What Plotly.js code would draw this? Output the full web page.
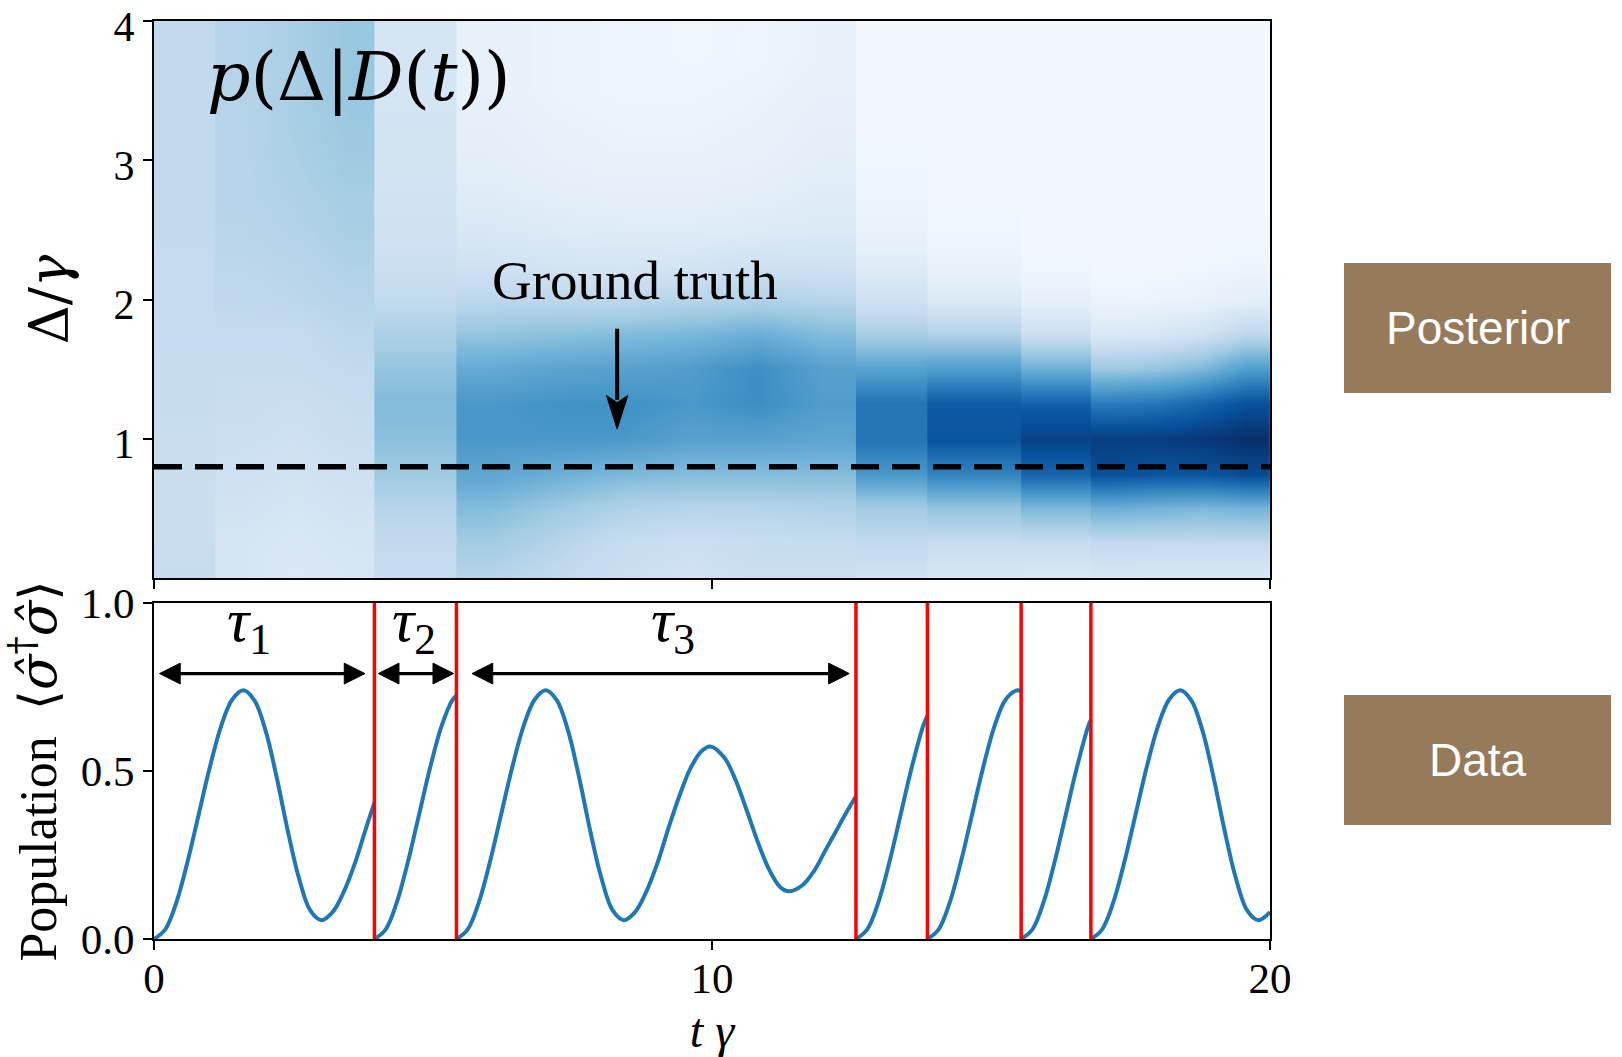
<!DOCTYPE html>
<html><head><meta charset="utf-8">
<script src="https://cdn.plot.ly/plotly-3.0.1.min.js"></script>
<style>html,body{margin:0;padding:0;background:#fff}</style>
</head><body><div id="chart" style="width:1622px;height:1057px"></div>
<script>
// ---------------- DATA ----------------
// reset (measurement) times, in units of t*gamma
const resetTimes = [3.95, 5.42, 12.58, 13.86, 15.54, 16.79];

// Population trace, segment by segment
const seg1T = [0,0.2,0.4,0.6,0.8,1.0,1.2,1.4,1.6,1.8,2.0,2.2,2.4,2.6,2.8,3.0,3.2,3.4,3.6,3.8,3.95];
const seg1P = [0,0.028,0.108,0.229,0.37,0.511,0.632,0.712,0.74,0.71,0.62,0.48,0.32,0.18,0.085,0.056,0.08,0.14,0.225,0.33,0.405];
const seg2T = [3.95,4.15,4.35,4.55,4.75,4.95,5.15,5.35,5.42];
const seg2P = [0,0.028,0.108,0.229,0.37,0.511,0.632,0.712,0.725];
const seg3T = [5.42,5.62,5.82,6.02,6.22,6.42,6.62,6.82,7.02,7.22,7.42,7.62,7.82,8.02,8.22,8.42,8.62,8.82,9.02,9.22,9.42,9.62,9.82,9.97,10.22,10.42,10.62,10.82,11.02,11.22,11.38,11.62,11.82,12.02,12.22,12.42,12.58];
const seg3P = [0,0.028,0.108,0.229,0.37,0.511,0.632,0.712,0.74,0.71,0.62,0.48,0.32,0.18,0.085,0.056,0.08,0.14,0.225,0.33,0.428,0.51,0.56,0.573,0.54,0.474,0.384,0.289,0.208,0.155,0.142,0.16,0.2,0.26,0.32,0.38,0.425];
const seg4T = [12.58,12.78,12.98,13.18,13.38,13.58,13.78,13.86];
const seg4P = [0,0.028,0.108,0.229,0.37,0.511,0.632,0.665];
const seg5T = [13.86,14.06,14.26,14.46,14.66,14.86,15.06,15.26,15.46,15.54];
const seg5P = [0,0.028,0.108,0.229,0.37,0.511,0.632,0.712,0.74,0.737];
const seg6T = [15.54,15.74,15.94,16.14,16.34,16.54,16.74,16.79];
const seg6P = [0,0.028,0.108,0.229,0.37,0.511,0.632,0.652];
const seg7T = [16.79,16.99,17.19,17.39,17.59,17.79,17.99,18.19,18.39,18.59,18.79,18.99,19.19,19.39,19.59,19.79,20.0];
const seg7P = [0,0.028,0.108,0.229,0.37,0.511,0.632,0.712,0.74,0.71,0.62,0.48,0.32,0.18,0.085,0.056,0.08];

// Posterior p(Delta | D(t)) : rows of Delta/gamma, columns per time block
const deltaRows = [0,0.25,0.5,0.75,1.0,1.25,1.5,1.75,2.0,2.25,2.5,2.75,3.0,3.25,3.5,3.75,4.0];
const postA_edges = [0, 1.1];
const postA = [[0.24,0.23,0.23,0.23,0.23,0.24,0.24,0.25,0.25,0.25,0.26,0.26,0.26,0.26,0.26,0.26,0.26]];
const postB_edges = [1.1, 2.05, 3.0, 3.95];
const postB = [
  [0.17,0.17,0.19,0.21,0.22,0.23,0.24,0.25,0.27,0.28,0.29,0.30,0.30,0.30,0.30,0.30,0.30],
  [0.14,0.15,0.17,0.19,0.21,0.22,0.24,0.25,0.28,0.29,0.31,0.32,0.33,0.34,0.34,0.34,0.34],
  [0.16,0.17,0.19,0.21,0.23,0.24,0.26,0.28,0.30,0.32,0.34,0.35,0.37,0.38,0.39,0.39,0.39]];
const postC_edges = [3.95, 5.42];
const postC = [[0.24,0.26,0.30,0.37,0.42,0.44,0.40,0.33,0.26,0.22,0.20,0.19,0.18,0.18,0.17,0.17,0.17]];
const postD_edges = [5.42, 6.6, 7.8, 9.0, 10.2, 11.4, 12.58];
const postD = [
  [0.30,0.36,0.44,0.54,0.60,0.60,0.52,0.40,0.28,0.20,0.15,0.12,0.10,0.09,0.08,0.08,0.08],
  [0.26,0.30,0.38,0.50,0.60,0.62,0.55,0.42,0.28,0.18,0.13,0.10,0.08,0.07,0.06,0.06,0.06],
  [0.22,0.24,0.32,0.46,0.60,0.63,0.56,0.44,0.28,0.17,0.12,0.09,0.07,0.06,0.05,0.05,0.05],
  [0.20,0.22,0.30,0.44,0.56,0.60,0.58,0.46,0.30,0.18,0.12,0.09,0.07,0.06,0.05,0.04,0.04],
  [0.22,0.24,0.30,0.44,0.56,0.64,0.64,0.50,0.32,0.20,0.13,0.10,0.08,0.07,0.06,0.05,0.05],
  [0.22,0.24,0.32,0.44,0.54,0.58,0.56,0.44,0.30,0.20,0.14,0.12,0.10,0.09,0.08,0.07,0.07]];
const postE_edges = [12.58, 13.86];
const postE = [[0.20,0.26,0.36,0.60,0.74,0.74,0.56,0.34,0.20,0.12,0.07,0.05,0.04,0.03,0.03,0.03,0.03]];
const postF_edges = [13.86, 15.54];
const postF = [[0.16,0.24,0.40,0.68,0.86,0.84,0.58,0.32,0.14,0.07,0.04,0.03,0.03,0.03,0.03,0.03,0.03]];
const postG_edges = [15.54, 16.79];
const postG = [[0.15,0.24,0.46,0.80,0.93,0.82,0.50,0.22,0.08,0.04,0.02,0.02,0.02,0.02,0.02,0.02,0.02]];
const postH_edges = [16.79, 17.6, 18.4, 19.2, 20];
const postH = [
  [0.16,0.26,0.50,0.88,0.95,0.72,0.38,0.15,0.05,0.03,0.02,0.02,0.02,0.02,0.02,0.02,0.02],
  [0.15,0.26,0.48,0.86,0.95,0.74,0.40,0.16,0.06,0.03,0.02,0.02,0.02,0.02,0.02,0.02,0.02],
  [0.15,0.26,0.46,0.86,0.97,0.80,0.46,0.20,0.07,0.04,0.02,0.02,0.02,0.02,0.02,0.02,0.02],
  [0.15,0.26,0.48,0.90,1.00,0.88,0.58,0.28,0.10,0.05,0.03,0.02,0.02,0.02,0.02,0.02,0.02]];

const groundTruth = 0.8;
const tauLabels = ['<i>τ</i><sub>1</sub>', '<i>τ</i><sub>2</sub>', '<i>τ</i><sub>3</sub>'];
const tauStart = [0.1, 4.02, 5.7];
const tauEnd = [3.78, 5.37, 12.46];
const tauLabelX = [1.71, 4.66, 9.3];
const tauArrowY = 0.79;
const tauLabelY = 0.935;

const yTopTicks = [1, 2, 3, 4];
const yBotTicks = [0, 0.5, 1];
const yBotTickText = ['0.0', '0.5', '1.0'];
const xTicks = [0, 10, 20];

// ---------------- BUILD ----------------
const blues = [[0,'#f7fbff'],[0.125,'#deebf7'],[0.25,'#c6dbef'],[0.375,'#9ecae1'],[0.5,'#6baed6'],[0.625,'#4292c6'],[0.75,'#2171b5'],[0.875,'#08519c'],[1,'#08306b']];
const blocks = [[postA_edges,postA],[postB_edges,postB],[postC_edges,postC],[postD_edges,postD],[postE_edges,postE],[postF_edges,postF],[postG_edges,postG],[postH_edges,postH]];
const traces = [];
blocks.forEach(([edges, cols], k) => {
  const z = deltaRows.map((_, i) => cols.map(c => c[i]));
  // overlap each block slightly onto the next one so no seam shows
  const e = edges.slice();
  if (k < blocks.length - 1) e[e.length - 1] += 0.04;
  traces.push({type:'heatmap', x: e, y: deltaRows, z: z, xaxis:'x', yaxis:'y',
    zmin:0, zmax:1, colorscale: blues, showscale:false, zsmooth:'best', hoverinfo:'skip'});
});
traces.push({type:'scatter', mode:'lines', x:[0,20], y:[groundTruth, groundTruth], xaxis:'x', yaxis:'y',
  line:{color:'black', width:5.5, dash:'28px,13px'}, hoverinfo:'skip'});

const segs = [[seg1T,seg1P],[seg2T,seg2P],[seg3T,seg3P],[seg4T,seg4P],[seg5T,seg5P],[seg6T,seg6P],[seg7T,seg7P]];
let px = [], py = [];
segs.forEach(([t,p], k) => { if (k) { px.push(null); py.push(null); } px = px.concat(t); py = py.concat(p); });
traces.push({type:'scatter', mode:'lines', x:px, y:py, xaxis:'x2', yaxis:'y2',
  line:{color:'#1f77b4', width:4, shape:'spline', smoothing:1}, connectgaps:false, hoverinfo:'skip'});
let rx = [], ry = [];
resetTimes.forEach((r, k) => { if (k) { rx.push(null); ry.push(null); } rx.push(r, r); ry.push(0, 1); });
traces.push({type:'scatter', mode:'lines', x:rx, y:ry, xaxis:'x2', yaxis:'y2',
  line:{color:'#ff0000', width:3.5}, connectgaps:false, hoverinfo:'skip'});

const serif = 'Liberation Serif, Times New Roman, serif';
const axBase = {showline:true, linecolor:'black', linewidth:2, mirror:true, showgrid:false, zeroline:false,
  ticks:'outside', ticklen:9, tickwidth:2, tickcolor:'black', ticklabeloverflow:'allow',
  tickfont:{family:serif, size:43, color:'black'}};

const annotations = [];
annotations.push({xref:'x', yref:'y', x:0.92, y:3.6, xanchor:'left', yanchor:'middle', showarrow:false,
  text:'<i>p</i>(Δ|<i>D</i>(<i>t</i>))', font:{family:'DejaVu Serif, serif', size:68, color:'black'}});
annotations.push({xref:'x', yref:'y', x:8.62, y:2.14, xanchor:'center', yanchor:'middle', showarrow:false,
  text:'Ground truth', font:{family:serif, size:55, color:'black'}});
tauLabels.forEach((txt, i) => {
  annotations.push({xref:'x2', yref:'y2', x:tauLabelX[i], y:tauLabelY, xanchor:'center', yanchor:'middle', showarrow:false,
    text:txt, font:{family:serif, size:62, color:'black'}});
});
// side labels
annotations.push({xref:'paper', yref:'paper', x:1.186, y:0.6656, xanchor:'center', yanchor:'middle', showarrow:false,
  text:'Posterior', font:{family:'Liberation Sans, Arial, sans-serif', size:46, color:'white'}});
annotations.push({xref:'paper', yref:'paper', x:1.186, y:0.195, xanchor:'center', yanchor:'middle', showarrow:false,
  text:'Data', font:{family:'Liberation Sans, Arial, sans-serif', size:46, color:'white'}});

// ground-truth arrow (shaft + head)
const gtX = 8.3, gtTop = 1.79, gtTip = 1.07, gtHeadBack = 1.31, gtNotch = 1.26, gtHalfW = 0.19;
const shapes = [
  {type:'line', xref:'x', yref:'y', x0:gtX, x1:gtX, y0:gtTop, y1:gtNotch+0.02, line:{color:'black', width:4}},
  {type:'path', xref:'x', yref:'y', path:`M ${gtX},${gtTip} L ${gtX-gtHalfW},${gtHeadBack} L ${gtX},${gtNotch} L ${gtX+gtHalfW},${gtHeadBack} Z`,
    fillcolor:'black', line:{color:'black', width:1}},
  {type:'rect', xref:'paper', yref:'paper', x0:1.0663, x1:1.3056, y0:0.5948, y1:0.7364, fillcolor:'#957a5c', line:{width:0}, layer:'below'},
  {type:'rect', xref:'paper', yref:'paper', x0:1.0663, x1:1.3056, y0:0.1242, y1:0.2658, fillcolor:'#957a5c', line:{width:0}, layer:'below'}
];
// double-headed tau arrows: shaft + two filled heads (head length in t units, half height in population units)
const headL = 0.37, headH = 0.031;
tauStart.forEach((xs, i) => {
  const xe = tauEnd[i], y = tauArrowY;
  shapes.push({type:'line', xref:'x2', yref:'y2', x0:xs + headL*0.5, x1:xe - headL*0.5, y0:y, y1:y, line:{color:'black', width:3.2}});
  shapes.push({type:'path', xref:'x2', yref:'y2', path:`M ${xe},${y} L ${xe-headL},${y+headH} L ${xe-headL},${y-headH} Z`,
    fillcolor:'black', line:{color:'black', width:1}});
  shapes.push({type:'path', xref:'x2', yref:'y2', path:`M ${xs},${y} L ${xs+headL},${y+headH} L ${xs+headL},${y-headH} Z`,
    fillcolor:'black', line:{color:'black', width:1}});
});

const layout = {
  width:1622, height:1057, margin:{l:154, r:352, t:21, b:118},
  paper_bgcolor:'white', plot_bgcolor:'white', showlegend:false,
  xaxis: Object.assign({}, axBase, {domain:[0,1], anchor:'y', range:[0,20], tickmode:'array', tickvals:xTicks, showticklabels:false}),
  yaxis: Object.assign({}, axBase, {domain:[0.3932,1], anchor:'x', range:[0,4], tickmode:'array', tickvals:yTopTicks,
    ticklabelshift:5, tickfont:{family:serif, size:42, color:'black'},
    title:{text:'Δ/<i>γ</i>', font:{family:'DejaVu Serif, serif', size:54, color:'black'}, standoff:28}}),
  xaxis2: Object.assign({}, axBase, {domain:[0,1], anchor:'y2', range:[0,20], tickmode:'array', tickvals:xTicks, ticklabelstandoff:-9,
    title:{text:'<i>t</i> <i>γ</i>', font:{family:serif, size:48, color:'black'}, standoff:18}}),
  yaxis2: Object.assign({}, axBase, {domain:[0,0.366], anchor:'x2', range:[0,1], tickmode:'array', tickvals:yBotTicks, ticktext:yBotTickText,
    title:{text:'Population  <span style="font-family:DejaVu Serif">⟨<i>σ̂</i><sup>†</sup><i>σ̂</i>⟩</span>', font:{family:serif, size:52, color:'black'}, standoff:12}}),
  annotations: annotations,
  shapes: shapes
};

Plotly.newPlot('chart', traces, layout, {staticPlot:true, displayModeBar:false});
</script></body></html>
